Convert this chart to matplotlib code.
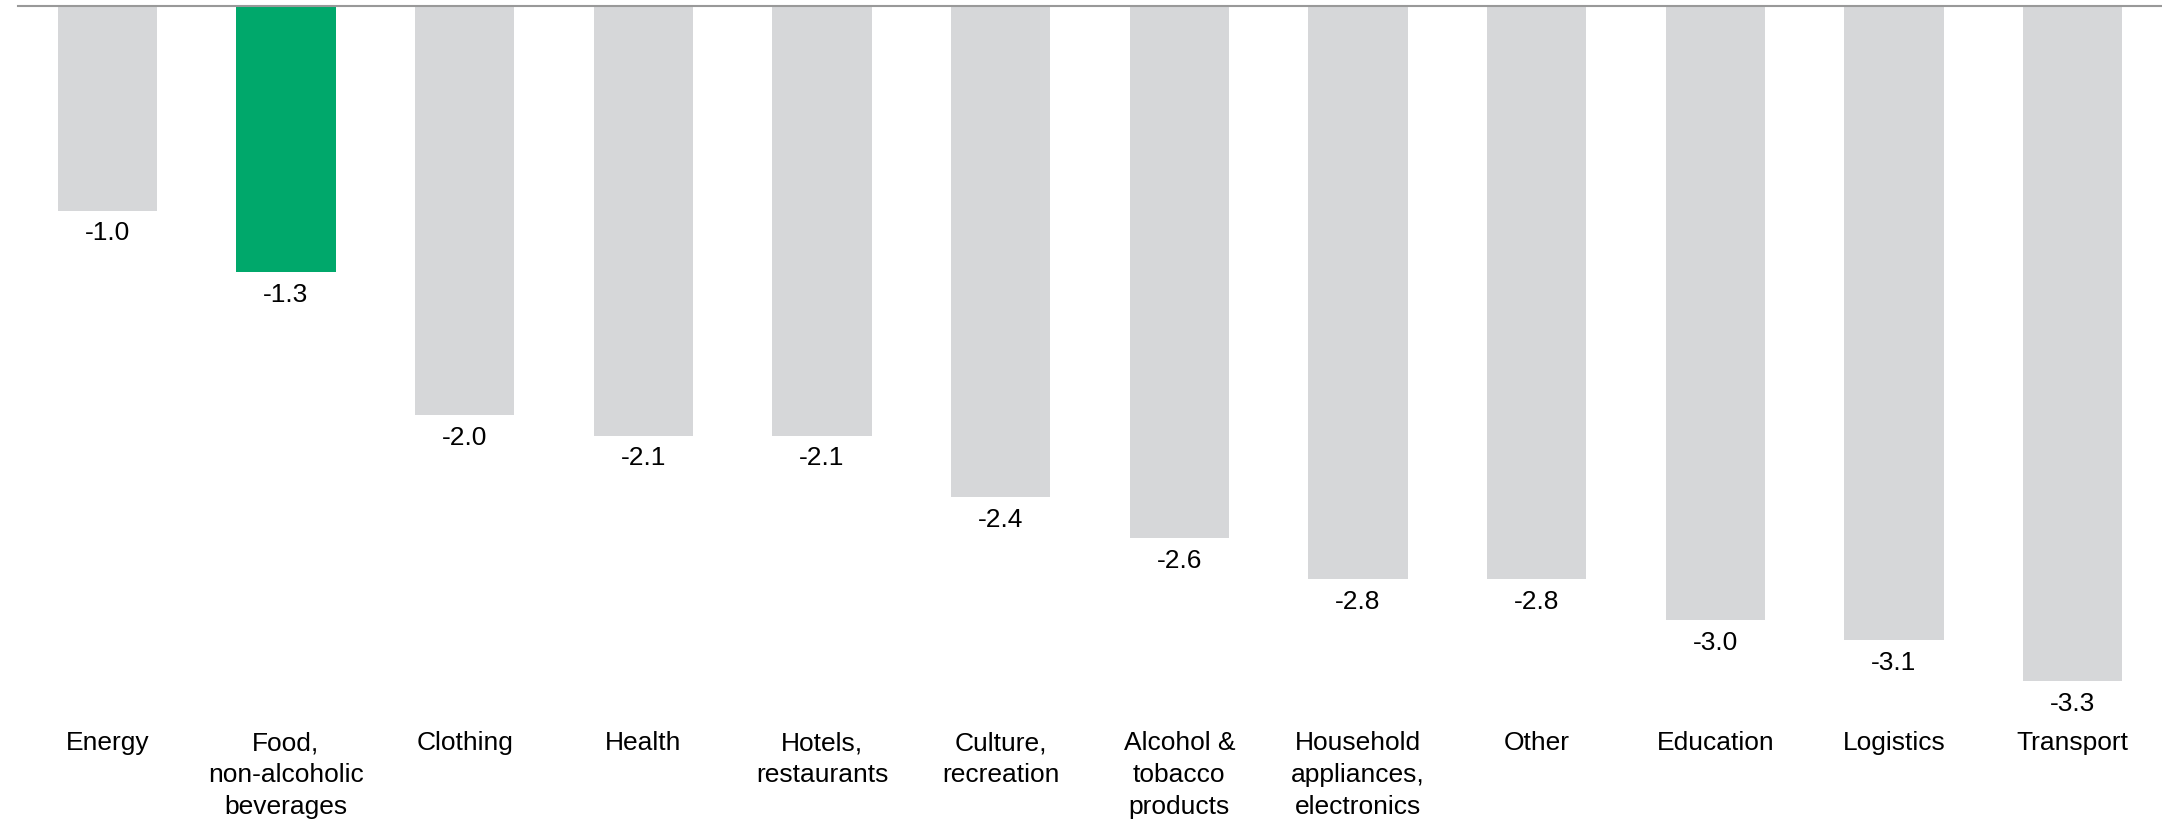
import matplotlib
matplotlib.use("Agg")
import matplotlib.pyplot as plt

# chart data
categories = ["Energy", "Food,\nnon-alcoholic\nbeverages", "Clothing", "Health",
              "Hotels,\nrestaurants", "Culture,\nrecreation", "Alcohol &\ntobacco\nproducts",
              "Household\nappliances,\nelectronics", "Other", "Education", "Logistics", "Transport"]
values = [-1.0, -1.3, -2.0, -2.1, -2.1, -2.4, -2.6, -2.8, -2.8, -3.0, -3.1, -3.3]
highlight = "Food,\nnon-alcoholic\nbeverages"

GREY = "#d6d7d9"
GREEN = "#00a86b"

plt.rcParams["font.family"] = ["Liberation Sans", "DejaVu Sans"]

W, H = 2162, 820
fig = plt.figure(figsize=(W / 100, H / 100), dpi=100)
# axes placed in pixel terms: left 18px, top 7px, bottom ~700px
ax = fig.add_axes([18 / W, 1 - 700.6 / H, (W - 18) / W, 693.6 / H])

x = list(range(len(categories)))
colors = [GREEN if c == highlight else GREY for c in categories]
bars = ax.bar(x, values, width=0.555, color=colors, zorder=2)

for b, v in zip(bars, values):
    ax.annotate("{:.1f}".format(v), (b.get_x() + b.get_width() / 2, v),
                xytext=(0, -7), textcoords="offset points",
                ha="center", va="top", fontsize=19, color="#000000")

ax.set_xlim(-0.5, 11.5)
ax.set_ylim(-3.39, 0)
ax.set_xticks(x)
ax.set_xticklabels(categories, fontsize=19, linespacing=1.41, va="top")
ax.tick_params(axis="x", length=0, pad=22)
ax.set_yticks([])

for s in ["left", "right", "bottom"]:
    ax.spines[s].set_visible(False)
ax.spines["top"].set_color("#999999")
ax.spines["top"].set_linewidth(1.5)
ax.spines["top"].set_zorder(3)

fig.savefig("out.png", dpi=100)
